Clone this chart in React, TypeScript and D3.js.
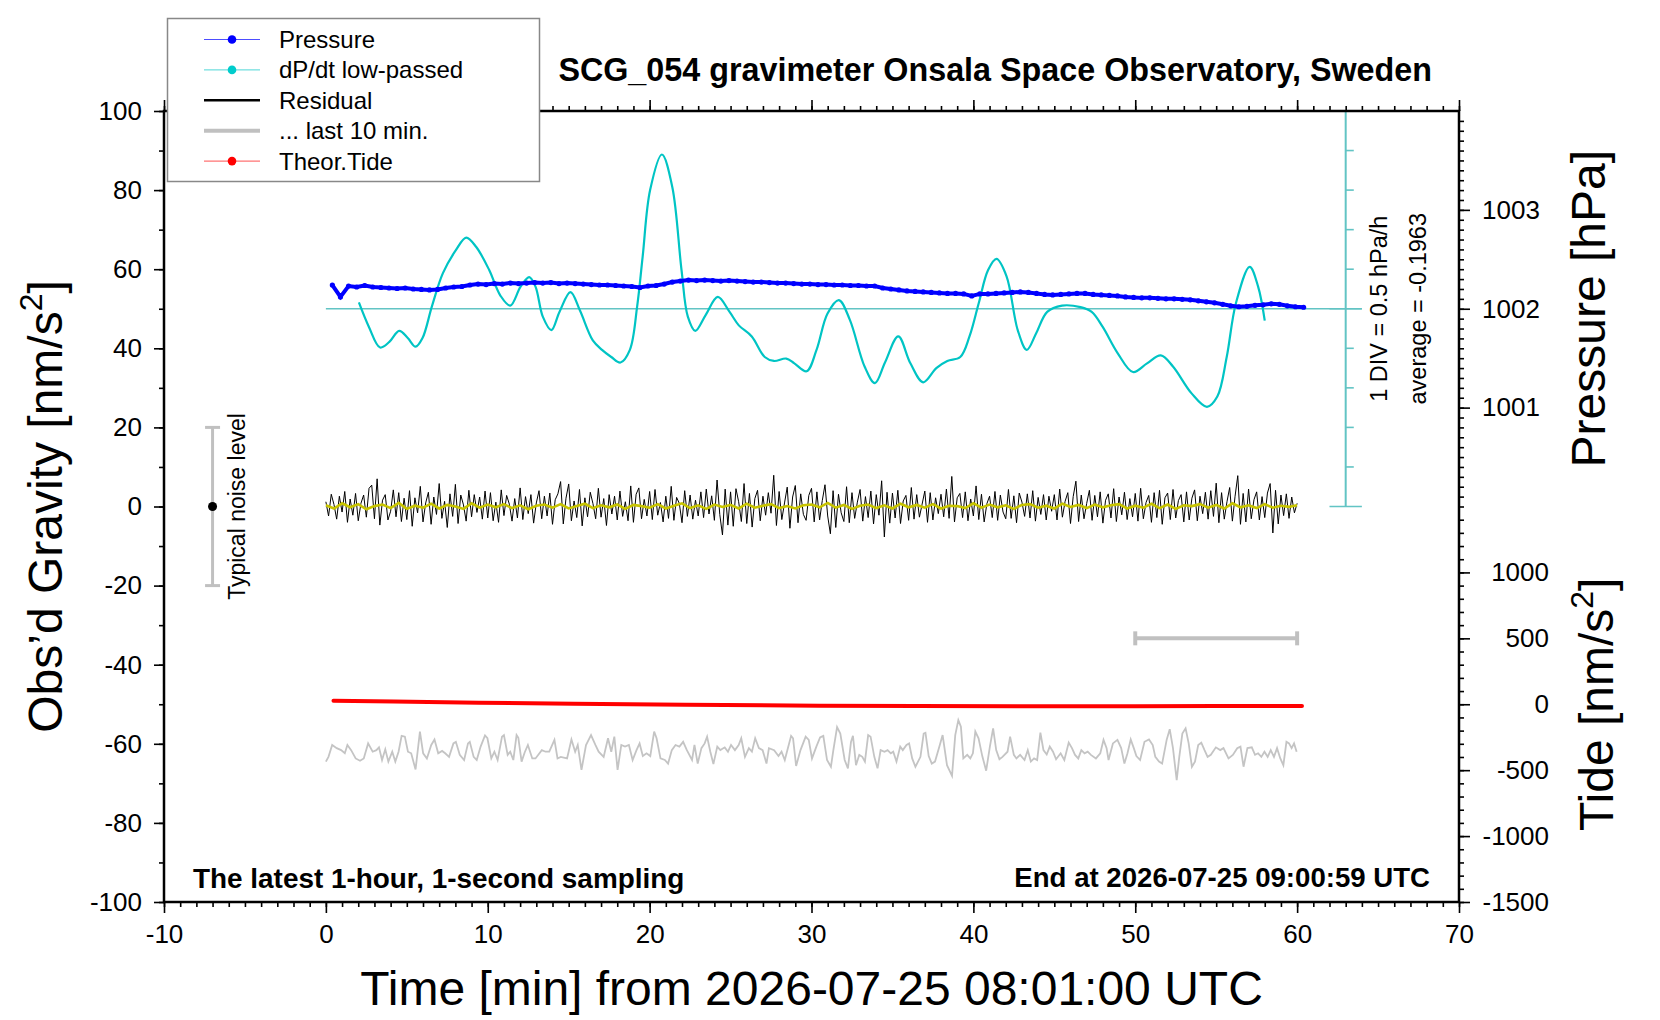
import React, { useEffect, useRef } from 'react';
import * as d3 from 'd3';

const W = 1660;
const H = 1020;
const FONT = '"Liberation Sans", Arial, Helvetica, sans-serif';

// pressure [hPa], sampled every 0.5 min from t = 0.4 min
const pressureStart = 0.4;
const pressureStep = 0.5;
const pressureValues = [
	1002.24, 1002.12, 1002.23, 1002.22, 1002.235, 1002.22, 1002.215, 1002.21, 1002.205, 1002.21,
	1002.2, 1002.195, 1002.19, 1002.195, 1002.21, 1002.22, 1002.225, 1002.24, 1002.25, 1002.245,
	1002.255, 1002.25, 1002.26, 1002.255, 1002.26, 1002.265, 1002.26, 1002.265, 1002.255, 1002.26,
	1002.255, 1002.25, 1002.245, 1002.24, 1002.24, 1002.235, 1002.23, 1002.225, 1002.215, 1002.23,
	1002.235, 1002.25, 1002.27, 1002.28, 1002.29, 1002.285, 1002.29, 1002.285, 1002.28, 1002.285,
	1002.28, 1002.275, 1002.27, 1002.27, 1002.265, 1002.26, 1002.26, 1002.255, 1002.25, 1002.25,
	1002.245, 1002.245, 1002.24, 1002.24, 1002.235, 1002.235, 1002.23, 1002.23, 1002.21, 1002.2,
	1002.19, 1002.18, 1002.175, 1002.17, 1002.165, 1002.16, 1002.155, 1002.155, 1002.15, 1002.13,
	1002.15, 1002.15, 1002.155, 1002.16, 1002.165, 1002.17, 1002.165, 1002.155, 1002.145, 1002.14,
	1002.145, 1002.15, 1002.155, 1002.155, 1002.145, 1002.14, 1002.135, 1002.13, 1002.12, 1002.115,
	1002.11, 1002.11, 1002.105, 1002.1, 1002.1, 1002.095, 1002.09, 1002.08, 1002.07, 1002.06,
	1002.045, 1002.03, 1002.02, 1002.025, 1002.035, 1002.04, 1002.05, 1002.045, 1002.03, 1002.02,
	1002.015,
];

// dP/dt low-passed [hPa/h]
const dpdtTime = [
	2.04, 2.66, 3.35, 3.92, 4.53, 5.06, 5.54, 5.97, 6.55, 7.23, 8.03, 8.67, 9.29, 10.09, 10.77, 11.39,
	12.03, 12.56, 12.95, 13.4, 13.93, 14.43, 15.11, 15.69, 16.49, 17.06, 17.63, 18.2, 18.78, 19.23,
	19.57, 20.03, 20.76, 21.4, 21.97, 22.36, 22.82, 23.46, 24.21, 24.94, 25.51, 26.31, 27.11, 27.68,
	28.44, 28.94, 29.7, 30.31, 30.99, 31.69, 32.37, 33.28, 33.92, 34.54, 35.36, 36.11, 36.9, 37.71,
	38.39, 39.19, 39.76, 40.33, 40.91, 41.43, 42.05, 42.74, 43.3, 43.88, 44.56, 45.48, 46.62, 47.31,
	47.99, 48.91, 49.86, 50.73, 51.58, 52.33, 53.48, 54.43, 55.07, 55.65, 56.22, 57.07, 57.59, 58.0,
];
const dpdtValue = [
	0.08, -0.23, -0.49, -0.42, -0.28, -0.37, -0.48, -0.37, 0.03, 0.45, 0.74, 0.9, 0.78, 0.49, 0.17, 0.04,
	0.28, 0.4, 0.28, -0.1, -0.27, -0.04, 0.21, -0.02, -0.4, -0.52, -0.61, -0.68, -0.52, 0.03,
	0.66, 1.5, 1.95, 1.54, 0.49, -0.1, -0.28, -0.08, 0.15, -0.04, -0.21, -0.35, -0.61, -0.66,
	-0.63, -0.69, -0.79, -0.52, -0.06, 0.11, -0.14, -0.73, -0.94, -0.68, -0.35, -0.69, -0.93, -0.75,
	-0.66, -0.61, -0.35, 0.07, 0.49, 0.63, 0.41, -0.27, -0.52, -0.31, -0.04, 0.04, 0.02, -0.04,
	-0.23, -0.56, -0.8, -0.69, -0.59, -0.73, -1.07, -1.24, -1.11, -0.61, 0.07, 0.53, 0.28, -0.15,
];
const dpdtAverage = '-0.1963';

// residual [nm/s^2], every 10 s from t = 0
const residualStep = 1 / 6;
const residualValues = [
	1.2, -2.4, 3.1, 0.5, -3.2, 2.6, -1.4, 3.8, -4.0, 1.9, -2.2, 3.3, -3.6, 0.8, 2.9, -2.7, 4.6, 5.4, -3.1, 7.0,
	-4.7, 1.6, 3.0, -3.4, -1.2, 4.2, -2.6, 3.5, -3.8, 2.1,
	-3.3, 4.0, -5.0, 2.2, -1.6, 5.1, -3.9, 0.9, 3.6, -4.5, 2.4, -2.0, 5.8, -3.0, 1.3, -5.3, 3.2, -2.5, 5.6, -4.3,
	2.9, 0.4, -3.7, 4.1, -2.6, 3.0, -1.5, 2.4, -3.2, 3.9,
	-2.9, 3.5, -3.6, 1.1, -4.0, 4.2, -2.3, 2.8, 0.6, -3.7, 2.0, -2.9, 4.7, -3.3, 2.5, -1.8, 3.0, -4.2, 0.9, 4.0,
	-3.1, 2.6, -2.4, 3.4, -4.5, 1.7, 3.2, 6.3, -4.4, 2.1,
	5.7, -3.6, 1.4, -2.8, 4.3, -4.9, 2.2, -2.6, 3.6, 0.7, -3.1, 4.6, -2.7, 2.0, -4.8, 3.0, -1.9, 2.6, -3.4, 3.9,
	-2.5, 1.2, -3.6, 5.2, -4.0, 3.1, 4.7, -3.1, 1.8, -2.4,
	3.8, -3.3, 4.3, -2.2, 1.0, -3.9, 2.6, -3.0, 5.1, -3.5, 2.3, 0.8, -4.1, 4.0, -2.5, 2.9, -3.2, 1.6, -2.4, 3.7,
	-2.8, 4.4, -1.9, 2.7, -3.5, 6.7, -2.0, -7.2, 4.4, -4.7,
	3.7, -5.0, 4.5, 1.2, -3.8, 5.8, -4.3, 3.3, -5.2, 2.0, 4.1, -3.6, 2.6, -2.2, 3.5, -1.7, 7.9, -4.8, 3.8, -3.3,
	0.9, 4.9, -5.5, 2.4, 5.3, -4.1, 3.2, -2.0, -3.5, 2.8,
	4.6, -3.9, 3.7, -3.4, 1.5, 5.5, -2.4, -6.9, 4.0, -5.3, 3.1, -1.6, -3.8, 5.0, -4.1, 3.5, -3.0, 1.1, 4.3, -3.7,
	2.5, -2.8, 3.9, -4.4, 3.0, -2.2, 6.5, -7.7, 3.6, -4.2,
	3.4, -2.9, 4.1, -4.3, 1.4, 2.8, -3.5, 4.8, -3.2, 3.0, -2.7, 0.6, 3.9, -4.0, 3.5, -3.4, 2.2, -1.8, 3.1, -2.6,
	4.4, -3.0, 7.6, -3.9, 2.2, 3.3, -2.8, 3.7, -3.6, 1.9,
	-2.4, 5.2, -3.3, 3.1, -3.9, 0.7, 2.6, -2.8, 3.8, -3.5, 2.9, -1.4, -3.1, 4.3, -3.0, 2.7, -4.1, 3.4, 1.1, -2.5,
	3.2, -2.9, 4.0, -3.7, 2.3, -2.0, 3.0, -3.4, 2.6, -1.2,
	3.0, -3.4, 4.4, -2.7, 1.3, 3.5, -4.3, 2.5, 6.4, -3.8, 2.9, -3.1, 0.8, 4.1, -3.5, 2.8, -2.6, 3.7, -4.2, 1.6,
	3.2, -2.9, 4.5, -3.8, 2.4, -2.1, 3.6, -3.3, 2.0, -2.6,
	3.3, -3.7, 4.6, -3.1, 1.0, 2.8, -4.0, 3.5, -2.8, 4.1, -4.5, 2.2, 3.4, -3.3, 4.3, -2.9, 1.5, 3.0, -3.9, 3.7,
	-3.4, 2.1, 4.2, -3.6, 2.6, -1.8, 3.6, -3.2, 4.0, -2.5,
	5.9, -4.1, 3.5, -3.2, 1.2, 4.8, -3.7, 2.6, 7.8, -4.5, 3.3, -3.9, 4.4, -3.1, 1.7, 3.7, -3.4, 2.5, -2.8, 3.4,
	5.8, -6.7, 4.1, -4.4, 2.9, -2.3, 3.2, -3.0, 2.4, -1.6,
	0.8,
];

// smoothed residual (yellow), every 0.5 min
const smoothStep = 0.5;
const smoothValues = [
	0.3, -0.5, 0.8, -0.2, 0.6, -0.7, 0.1, 0.5, -0.4, 0.9, -0.6, 0.2, -0.3, 0.7, -0.5, 0.4, 0.0, -0.6, 0.8, -0.3,
	0.5, -0.2, 0.6, -0.4, 0.3, -0.7, 0.2, 0.5, -0.3, 0.6, -0.5, 0.1, 0.7, -0.4, 0.3, -0.2, 0.5, -0.6, 0.4, 0.1,
	-0.3, 0.6, -0.5, 0.2, 0.8, -0.4, 0.3, -0.6, 0.5, -0.1, 0.4, -0.5, 0.7, -0.3, 0.2, 0.6, -0.4, 0.1, -0.5, 0.3,
	0.5, -0.2, 0.9, -0.3, 0.4, -0.6, 0.2, 0.5, -0.4, 0.3, -0.5, 0.7, -0.2, 0.4, -0.3, 0.6, -0.5, 0.2, 0.1, -0.4,
	0.8, -0.3, 0.5, -0.2, 0.3, -0.6, 0.4, 0.6, -0.3, 0.2, -0.5, 0.7, -0.1, 0.4, -0.4, 0.5, -0.2, 0.3, 0.6, -0.5,
	0.2, -0.3, 0.7, -0.4, 0.5, -0.6, 0.3, 0.1, 0.6, -0.3, 0.4, -0.5, 0.8, -0.2, 0.3, -0.4, 0.6, -0.3, 0.2, -0.1,
	0.3,
];

// "... last 10 min." trace, stretched over the hour, plotted on the gravity axis
const lastTenTime = [
	0.0, 0.16, 0.39, 0.67, 0.94, 1.17, 1.33, 1.56, 1.84, 2.11, 2.34, 2.61, 2.89, 3.12, 3.28, 3.47, 3.67, 3.86,
	4.1, 4.29, 4.49, 4.68, 4.88, 5.07, 5.27, 5.54, 5.81, 6.01, 6.24, 6.51, 6.71, 6.94, 7.18, 7.37, 7.61, 7.88,
	8.03, 8.27, 8.54, 8.78, 8.89, 9.13, 9.32, 9.56, 9.83, 9.98, 10.22, 10.41, 10.61, 10.88, 11.0, 11.23, 11.39,
	11.58, 11.78, 11.89, 12.09, 12.28, 12.48, 12.75, 12.95, 13.34, 13.57, 13.8, 14.12, 14.31, 14.51, 14.9,
	15.17, 15.4, 15.56, 15.79, 16.07, 16.38, 16.65, 16.85, 17.16, 17.43, 17.63, 17.82, 18.02, 18.25, 18.48,
	18.72, 18.95, 19.19, 19.38, 19.58, 19.81, 20.04, 20.28, 20.43, 20.67, 20.94, 21.14, 21.37, 21.6, 21.84,
	22.07, 22.3, 22.62, 22.77, 22.97, 23.2, 23.4, 23.55, 23.75, 23.94, 24.18, 24.37, 24.64, 24.84, 25.03,
	25.27, 25.5, 25.66, 25.89, 26.13, 26.32, 26.52, 26.75, 26.98, 27.22, 27.37, 27.69, 27.96, 28.15, 28.35,
	28.74, 28.86, 29.05, 29.32, 29.64, 29.83, 30.03, 30.3, 30.53, 30.73, 30.96, 31.2, 31.35, 31.58, 31.78,
	32.05, 32.25, 32.44, 32.56, 32.75, 32.95, 33.14, 33.3, 33.5, 33.65, 33.88, 34.08, 34.27, 34.51, 34.7,
	34.9, 35.05, 35.25, 35.48, 35.64, 35.87, 36.03, 36.22, 36.42, 36.73, 36.93, 37.04, 37.24, 37.43, 37.63,
	37.9, 38.1, 38.37, 38.68, 38.88, 39.07, 39.23, 39.38, 39.62, 39.81, 39.97, 40.12, 40.32, 40.55, 40.79,
	41.02, 41.22, 41.41, 41.61, 41.8, 42.11, 42.27, 42.5, 42.66, 42.89, 43.16, 43.36, 43.55, 43.75, 43.94,
	44.14, 44.33, 44.53, 44.72, 44.92, 45.11, 45.39, 45.62, 45.89, 46.09, 46.28, 46.48, 46.67, 46.87, 47.06,
	47.26, 47.57, 47.84, 48.04, 48.23, 48.35, 48.62, 48.9, 49.13, 49.33, 49.52, 49.72, 49.91, 50.07, 50.3,
	50.57, 50.85, 51.08, 51.24, 51.47, 51.66, 51.94, 52.13, 52.33, 52.56, 52.72, 52.91, 53.11, 53.3, 53.5,
	53.69, 53.89, 54.08, 54.28, 54.47, 54.67, 54.98, 55.25, 55.45, 55.76, 56.03, 56.3, 56.5, 56.69, 56.93,
	57.2, 57.4, 57.59, 57.79, 57.98, 58.18, 58.37, 58.57, 58.76, 58.96, 59.15, 59.34, 59.5, 59.66, 59.81,
	59.97,
];
const lastTenValue = [
	-64.5, -63.3, -60.3, -61.1, -61.6, -62.4, -60.3, -61.6, -63.7, -64.3, -63.7, -59.9, -62.0, -61.6, -60.9, -64.1, -61.4, -64.5,
	-62.0, -64.5, -62.0, -58.0, -58.2, -62.0, -62.4, -66.5, -56.9, -62.4, -63.7, -60.3, -58.9, -62.4, -61.8, -62.4, -63.3, -59.9,
	-59.5, -62.8, -64.1, -59.9, -59.5, -63.3, -64.1, -60.7, -57.9, -58.6, -63.7, -62.0, -64.1, -58.2, -57.8, -62.8, -62.0,
	-64.1, -57.8, -58.5, -64.5, -62.2, -60.3, -63.7, -63.7, -61.6, -62.0, -62.0, -59.0, -63.7, -63.3, -63.7,
	-58.9, -62.0, -60.3, -66.6, -60.3, -57.8, -60.3, -62.0, -63.3, -58.6, -62.0, -58.2, -66.6, -60.3, -60.7,
	-60.3, -64.1, -61.6, -59.9, -63.1, -62.4, -63.1, -56.9, -58.6, -63.7, -64.1, -65.0, -61.6, -60.3, -60.7,
	-59.5, -61.6, -64.1, -60.3, -65.0, -61.1, -59.9, -58.2, -62.0, -65.1, -60.7, -61.6, -60.9, -62.0, -60.3,
	-61.6, -60.3, -58.6, -63.3, -61.1, -62.0, -58.6, -61.1, -61.6, -65.0, -61.1, -61.6, -63.1, -62.0, -64.1,
	-58.0, -58.6, -65.6, -61.6, -58.2, -59.0, -63.7, -60.7, -58.4, -58.0, -64.1, -65.8, -61.6, -55.8, -57.4,
	-64.1, -66.2, -59.5, -58.0, -65.4, -62.8, -63.3, -64.5, -57.8, -58.2, -63.3, -66.2, -61.6, -62.0, -61.6,
	-62.4, -62.0, -64.5, -60.7, -61.6, -60.3, -59.9, -63.7, -65.8, -63.3, -57.4, -57.2, -63.1, -65.0, -64.5,
	-60.7, -57.8, -65.4, -68.1, -57.8, -54.0, -55.7, -63.7, -62.8, -63.7, -62.4, -56.9, -58.6, -63.1, -66.8,
	-60.7, -56.1, -61.6, -63.9, -63.3, -62.0, -58.2, -62.8, -63.7, -62.8, -64.1, -61.6, -64.5, -63.7, -64.1,
	-57.2, -61.6, -62.7, -60.7, -62.0, -63.9, -62.4, -64.1, -59.7, -61.1, -62.8, -63.7, -61.6, -62.4, -62.0,
	-62.8, -63.7, -62.4, -59.0, -61.1, -64.1, -59.9, -59.0, -61.1, -65.0, -62.4, -58.9, -61.1, -63.1, -64.1,
	-59.5, -58.9, -60.3, -63.3, -64.5, -65.0, -59.0, -56.3, -61.1, -69.2, -63.3, -57.4, -56.1, -59.9, -65.8,
	-64.5, -60.3, -59.7, -61.6, -63.3, -62.8, -60.9, -61.6, -61.1, -63.7, -62.8, -61.1, -60.7, -65.8, -61.1,
	-60.9, -62.8, -62.4, -63.3, -62.0, -63.3, -61.6, -63.3, -61.1, -63.7, -65.4, -59.5, -59.9, -61.1, -59.9,
	-62.0,
];

// theoretical tide [nm/s^2]
const tideTime = [0.47, 4.2, 9.45, 15.3, 22.2, 30.5, 36.5, 43.0, 50.0, 55.0, 60.3];
const tideValue = [27, 20, 12, 4.5, -3, -10.6, -13.5, -15, -15, -14, -13];

const xTicks = [-10, 0, 10, 20, 30, 40, 50, 60, 70];
const gravityTicks = [-100, -80, -60, -40, -20, 0, 20, 40, 60, 80, 100];
const pressureTicks = [1001, 1002, 1003];
const tideTicks = [-1500, -1000, -500, 0, 500, 1000];

const legendItems = [
	{ label: 'Pressure', color: '#0000ff', line: '#4d4dff', width: 1, dot: true },
	{ label: 'dP/dt low-passed', color: '#00cccc', line: '#4dd6d6', width: 1, dot: true },
	{ label: 'Residual', color: '#000000', line: '#000000', width: 2.6, dot: false },
	{ label: '... last 10 min.', color: '#c0c0c0', line: '#c0c0c0', width: 4, dot: false },
	{ label: 'Theor.Tide', color: '#ff0000', line: '#ff5050', width: 1, dot: true },
];

const Chart: React.FC = () => {
	const svgRef = useRef<SVGSVGElement | null>(null);

	useEffect(() => {
		if (!svgRef.current) return;
		document.body.style.margin = '0';

		const svg = d3.select(svgRef.current);
		svg.selectAll('*').remove();
		svg.attr('width', W).attr('height', H).style('display', 'block').style('font-family', FONT);

		svg.append('rect').attr('width', W).attr('height', H).attr('fill', '#fff');

		const x = d3.scaleLinear().domain([-10, 70]).range([164, 1459]);
		const yG = d3.scaleLinear().domain([-100, 100]).range([902, 111]);
		const yP = d3.scaleLinear().domain([1000, 1004]).range([yG(0), yG(100)]);
		const yT = d3.scaleLinear().domain([-1500, 1500]).range([yG(-100), yG(0)]);
		const yD = d3.scaleLinear().domain([-2.5, 2.5]).range([yG(0), yG(100)]);

		const cyanAxis = '#62c4c4';

		// dP/dt reference axis and zero line
		svg
			.append('line')
			.attr('x1', x(0))
			.attr('x2', x(64))
			.attr('y1', yD(0))
			.attr('y2', yD(0))
			.attr('stroke', cyanAxis)
			.attr('stroke-width', 1.6);
		svg
			.append('line')
			.attr('x1', x(63))
			.attr('x2', x(63))
			.attr('y1', yD(2.5))
			.attr('y2', yD(-2.5))
			.attr('stroke', cyanAxis)
			.attr('stroke-width', 2);
		svg
			.append('g')
			.selectAll('line')
			.data(d3.range(-5, 6).map((i) => i * 0.5))
			.join('line')
			.attr('x1', (d) => (Math.abs(d) === 2.5 || d === 0 ? x(62) : x(63)))
			.attr('x2', (d) => (Math.abs(d) === 2.5 || d === 0 ? x(64) : x(63.5)))
			.attr('y1', (d) => yD(d))
			.attr('y2', (d) => yD(d))
			.attr('stroke', cyanAxis)
			.attr('stroke-width', 1.6);

		// dP/dt curve
		const dpdtLine = d3
			.line<number>()
			.x((_, i) => x(dpdtTime[i]))
			.y((d) => yD(d))
			.curve(d3.curveCatmullRom.alpha(0.5));
		svg
			.append('path')
			.attr('d', dpdtLine(dpdtValue))
			.attr('fill', 'none')
			.attr('stroke', '#00c4c4')
			.attr('stroke-width', 2.2);

		// pressure
		const pressureLine = d3
			.line<number>()
			.x((_, i) => x(pressureStart + i * pressureStep))
			.y((d) => yP(d));
		svg
			.append('path')
			.attr('d', pressureLine(pressureValues))
			.attr('fill', 'none')
			.attr('stroke', '#0000ff')
			.attr('stroke-width', 4);
		svg
			.append('g')
			.selectAll('circle')
			.data(pressureValues)
			.join('circle')
			.attr('cx', (_, i) => x(pressureStart + i * pressureStep))
			.attr('cy', (d) => yP(d))
			.attr('r', 2.6)
			.attr('fill', '#0000ff');

		// residual
		const residualLine = d3
			.line<number>()
			.x((_, i) => x(i * residualStep))
			.y((d) => yG(d));
		svg
			.append('path')
			.attr('d', residualLine(residualValues))
			.attr('fill', 'none')
			.attr('stroke', '#000')
			.attr('stroke-width', 1);
		const smoothLine = d3
			.line<number>()
			.x((_, i) => x(i * smoothStep))
			.y((d) => yG(d));
		svg
			.append('path')
			.attr('d', smoothLine(smoothValues))
			.attr('fill', 'none')
			.attr('stroke', '#c8c400')
			.attr('stroke-width', 2.6);

		// last 10 min trace
		const lastLine = d3
			.line<number>()
			.x((_, i) => x(lastTenTime[i]))
			.y((d) => yG(d));
		svg
			.append('path')
			.attr('d', lastLine(lastTenValue))
			.attr('fill', 'none')
			.attr('stroke', '#c4c4c4')
			.attr('stroke-width', 1.8);

		// theoretical tide
		const tideLine = d3
			.line<number>()
			.x((_, i) => x(tideTime[i]))
			.y((d) => yT(d));
		svg
			.append('path')
			.attr('d', tideLine(tideValue))
			.attr('fill', 'none')
			.attr('stroke', '#ff0000')
			.attr('stroke-width', 4)
			.attr('stroke-linecap', 'round');

		// 10-min scale bar
		const barY = yT(500);
		const gBar = svg.append('g').attr('stroke', '#c0c0c0').attr('stroke-width', 4);
		gBar.append('line').attr('x1', x(50)).attr('x2', x(60)).attr('y1', barY).attr('y2', barY);
		[50, 60].forEach((t) =>
			gBar.append('line').attr('x1', x(t)).attr('x2', x(t)).attr('y1', barY - 7).attr('y2', barY + 7),
		);

		// typical noise level
		const nx = x(-7);
		const gNoise = svg.append('g').attr('stroke', '#c0c0c0').attr('stroke-width', 3);
		gNoise.append('line').attr('x1', nx).attr('x2', nx).attr('y1', yG(20)).attr('y2', yG(-20));
		[20, -20].forEach((v) =>
			gNoise.append('line').attr('x1', nx - 7.5).attr('x2', nx + 7.5).attr('y1', yG(v)).attr('y2', yG(v)),
		);
		svg.append('circle').attr('cx', nx).attr('cy', yG(0)).attr('r', 4.5).attr('fill', '#000');
		svg
			.append('text')
			.attr('transform', `translate(245,${yG(0)}) rotate(-90)`)
			.attr('text-anchor', 'middle')
			.attr('font-size', 23)
			.text('Typical noise level');

		// axes
		const styleAxis = (g: d3.Selection<SVGGElement, unknown, null, undefined>) => {
			g.select('.domain').remove();
			g.selectAll('line').attr('stroke', '#000').attr('stroke-width', 1.6);
			g.selectAll('text').attr('font-size', 26).attr('fill', '#000').attr('font-family', FONT);
		};
		const fmt = (d: d3.NumberValue) => String(d);
		const none = () => '';

		svg
			.append('g')
			.attr('transform', `translate(0,${yG(-100)})`)
			.call(d3.axisBottom(x).tickValues(d3.range(-10, 71, 1)).tickSize(5).tickFormat(none))
			.call(styleAxis);
		svg
			.append('g')
			.attr('transform', `translate(0,${yG(-100)})`)
			.call(d3.axisBottom(x).tickValues(xTicks).tickSize(11).tickPadding(12).tickFormat(fmt))
			.call(styleAxis);
		svg
			.append('g')
			.attr('transform', `translate(0,${yG(100)})`)
			.call(d3.axisTop(x).tickValues(d3.range(-10, 71, 1)).tickSize(5).tickFormat(none))
			.call(styleAxis);
		svg
			.append('g')
			.attr('transform', `translate(0,${yG(100)})`)
			.call(d3.axisTop(x).tickValues(xTicks).tickSize(11).tickFormat(none))
			.call(styleAxis);

		svg
			.append('g')
			.attr('transform', `translate(${x(-10)},0)`)
			.call(d3.axisLeft(yG).tickValues(d3.range(-100, 101, 10)).tickSize(5).tickFormat(none))
			.call(styleAxis);
		svg
			.append('g')
			.attr('transform', `translate(${x(-10)},0)`)
			.call(d3.axisLeft(yG).tickValues(gravityTicks).tickSize(10).tickPadding(12).tickFormat(fmt))
			.call(styleAxis);

		svg
			.append('g')
			.attr('transform', `translate(${x(70)},0)`)
			.call(
				d3
					.axisRight(yP)
					.tickValues(d3.range(1, 40).map((i) => 1000 + i / 10))
					.tickSize(5)
					.tickFormat(none),
			)
			.call(styleAxis);
		svg
			.append('g')
			.attr('transform', `translate(${x(70)},0)`)
			.call(d3.axisRight(yP).tickValues(pressureTicks).tickSize(11).tickPadding(12).tickFormat(fmt))
			.call(styleAxis);
		svg
			.append('g')
			.attr('transform', `translate(${x(70)},0)`)
			.call(d3.axisRight(yT).tickValues(d3.range(-1500, 1501, 100)).tickSize(5).tickFormat(none))
			.call(styleAxis);
		svg
			.append('g')
			.attr('transform', `translate(${x(70)},0)`)
			.call(d3.axisRight(yT).tickValues(tideTicks).tickSize(11).tickFormat(fmt))
			.call(styleAxis)
			.call((g) => g.selectAll('text').attr('text-anchor', 'end').attr('x', 90));

		// frame
		svg
			.append('rect')
			.attr('x', x(-10))
			.attr('y', yG(100))
			.attr('width', x(70) - x(-10))
			.attr('height', yG(-100) - yG(100))
			.attr('fill', 'none')
			.attr('stroke', '#000')
			.attr('stroke-width', 2.5);

		// texts
		svg
			.append('text')
			.attr('x', 1432)
			.attr('y', 81)
			.attr('text-anchor', 'end')
			.attr('font-size', 32.3)
			.attr('font-weight', 'bold')
			.text('SCG_054 gravimeter Onsala Space Observatory, Sweden');
		svg
			.append('text')
			.attr('x', 193)
			.attr('y', 888)
			.attr('font-size', 27.9)
			.attr('font-weight', 'bold')
			.text('The latest 1-hour, 1-second sampling');
		svg
			.append('text')
			.attr('x', 1430)
			.attr('y', 887)
			.attr('text-anchor', 'end')
			.attr('font-size', 27.6)
			.attr('font-weight', 'bold')
			.text('End at 2026-07-25 09:00:59 UTC');
		svg
			.append('text')
			.attr('x', (x(-10) + x(70)) / 2)
			.attr('y', 1005)
			.attr('text-anchor', 'middle')
			.attr('font-size', 48)
			.text('Time [min] from 2026-07-25 08:01:00 UTC');

		const gl = svg
			.append('text')
			.attr('transform', `translate(62,${yG(0)}) rotate(-90)`)
			.attr('text-anchor', 'middle')
			.attr('font-size', 48);
		gl.append('tspan').text('Obs’d Gravity [nm/s');
		gl.append('tspan').attr('font-size', 32).attr('dy', -20).text('2');
		gl.append('tspan').attr('dy', 20).text(']');

		svg
			.append('text')
			.attr('transform', `translate(1605,${yP(1002)}) rotate(-90)`)
			.attr('text-anchor', 'middle')
			.attr('font-size', 48)
			.text('Pressure [hPa]');

		const tl = svg
			.append('text')
			.attr('transform', `translate(1613,${yT(0)}) rotate(-90)`)
			.attr('text-anchor', 'middle')
			.attr('font-size', 48);
		tl.append('tspan').text('Tide [nm/s');
		tl.append('tspan').attr('font-size', 32).attr('dy', -20).text('2');
		tl.append('tspan').attr('dy', 20).text(']');

		svg
			.append('text')
			.attr('transform', `translate(1387,${yD(0)}) rotate(-90)`)
			.attr('text-anchor', 'middle')
			.attr('font-size', 23.5)
			.text('1 DIV = 0.5 hPa/h');
		svg
			.append('text')
			.attr('transform', `translate(1426,${yD(0)}) rotate(-90)`)
			.attr('text-anchor', 'middle')
			.attr('font-size', 23.5)
			.text(`average = ${dpdtAverage}`);

		// legend
		const lg = svg.append('g');
		lg.append('rect')
			.attr('x', 167.5)
			.attr('y', 18.5)
			.attr('width', 372)
			.attr('height', 163)
			.attr('fill', '#fff')
			.attr('stroke', '#888')
			.attr('stroke-width', 1.5);
		legendItems.forEach((item, i) => {
			const cy = 39.5 + i * 30.4;
			lg.append('line')
				.attr('x1', 204)
				.attr('x2', 260)
				.attr('y1', cy)
				.attr('y2', cy)
				.attr('stroke', item.line)
				.attr('stroke-width', item.width);
			if (item.dot) lg.append('circle').attr('cx', 232).attr('cy', cy).attr('r', 4.3).attr('fill', item.color);
			lg.append('text')
				.attr('x', 279)
				.attr('y', cy + 8.5)
				.attr('font-size', 24)
				.text(item.label);
		});
	}, []);

	return <svg ref={svgRef}></svg>;
};

export default function App() {
	return <Chart />;
}
